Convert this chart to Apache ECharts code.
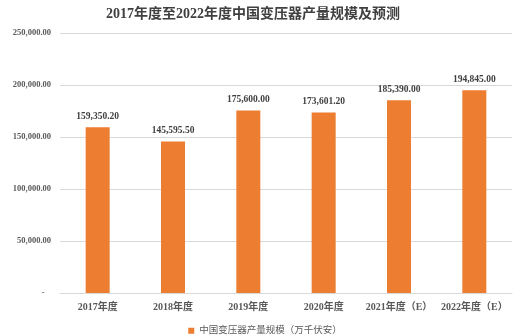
<!DOCTYPE html>
<html><head><meta charset="utf-8">
<script src="https://cdn.jsdelivr.net/npm/echarts@6/dist/echarts.min.js"></script>
<style>html,body{margin:0;padding:0;background:#fff}#c{width:530px;height:336px}</style>
</head><body><div id="c"></div>
<script>
const categories = ['2017年度','2018年度','2019年度','2020年度','2021年度（E）','2022年度（E）'];
const values = [159350.20, 145595.50, 175600.00, 173601.20, 185390.00, 194845.00];
const seriesName = '中国变压器产量规模（万千伏安）';
const titleText = '2017年度至2022年度中国变压器产量规模及预测';
const FONT = '"Liberation Serif", "Times New Roman", "Noto Sans CJK SC", serif';
function fmt(v){
  if (v === 0) return '-   ';
  return v.toLocaleString('en-US',{minimumFractionDigits:2,maximumFractionDigits:2});
}
const chart = echarts.init(document.getElementById('c'));
chart.setOption({
  animation:false,
  title:{text:titleText,left:248,textAlign:'center',top:2,textStyle:{fontFamily:FONT,fontSize:14,fontWeight:'bold',color:'#404040'}},
  grid:{left:60,right:18,top:33,bottom:43,containLabel:false},
  legend:{top:321,left:'center',itemWidth:6,itemHeight:6,itemGap:4,icon:'rect',textStyle:{fontFamily:FONT,fontSize:9.5,color:'#595959'}},
  xAxis:{type:'category',data:categories,
    axisLine:{lineStyle:{color:'#d9d9d9'}},axisTick:{show:false},
    axisLabel:{fontFamily:FONT,fontSize:10,fontWeight:'bold',color:'#595959',margin:9,interval:0}},
  yAxis:{type:'value',min:0,max:250000,interval:50000,
    axisLine:{show:false},axisTick:{show:false},
    splitLine:{lineStyle:{color:'#d9d9d9'}},
    axisLabel:{fontFamily:FONT,fontSize:8.5,fontWeight:'bold',color:'#595959',margin:9,formatter:fmt}},
  series:[{name:seriesName,type:'bar',data:values,barWidth:24,
    itemStyle:{color:'#ED7D31'},
    label:{show:true,position:'top',distance:6,fontFamily:FONT,fontSize:9.5,fontWeight:'bold',color:'#404040',formatter:p=>fmt(p.value)}}]
});
</script></body></html>
